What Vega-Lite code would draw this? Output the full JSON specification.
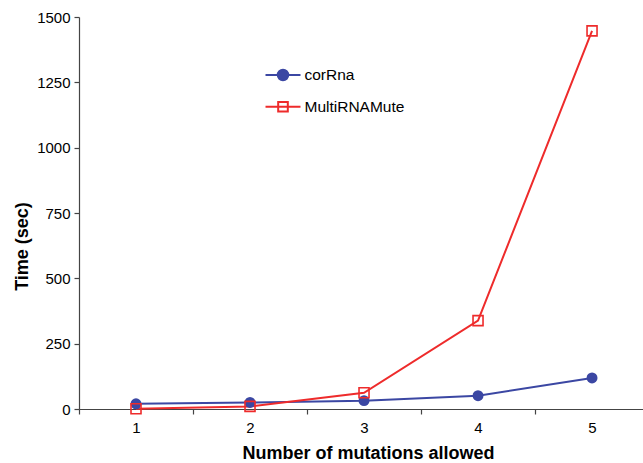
{
  "$schema": "https://vega.github.io/schema/vega-lite/v6.json",
  "width": 564,
  "height": 392,
  "autosize": {"type": "none"},
  "padding": {"left": 79, "top": 17, "right": 0, "bottom": 54},
  "background": "white",
  "config": {
    "view": {"stroke": null},
    "font": "Liberation Sans",
    "axis": {"labelFont": "Liberation Sans", "titleFont": "Liberation Sans", "labelColor": "#000", "titleColor": "#000", "domainColor": "#444", "tickColor": "#444", "domainWidth": 1.2, "tickWidth": 1.2, "grid": false}
  },
  "data": {
    "values": [
      {"n": 1, "series": "corRna", "time": 20},
      {"n": 2, "series": "corRna", "time": 25},
      {"n": 3, "series": "corRna", "time": 32},
      {"n": 4, "series": "corRna", "time": 51},
      {"n": 5, "series": "corRna", "time": 119},
      {"n": 1, "series": "MultiRNAMute", "time": 1},
      {"n": 2, "series": "MultiRNAMute", "time": 10},
      {"n": 3, "series": "MultiRNAMute", "time": 62},
      {"n": 4, "series": "MultiRNAMute", "time": 338},
      {"n": 5, "series": "MultiRNAMute", "time": 1447}
    ]
  },
  "encoding": {
    "x": {
      "field": "n", "type": "quantitative",
      "scale": {"domain": [0.5, 5.447], "nice": false, "zero": false},
      "axis": {
        "title": "Number of mutations allowed",
        "titleFontSize": 18, "titleFontWeight": "bold",
        "titleX": 289, "titleY": 49, "titleBaseline": "alphabetic", "titleAlign": "center", "titleAnchor": null,
        "values": [0.5, 1, 1.5, 2, 2.5, 3, 3.5, 4, 4.5, 5],
        "labelExpr": "datum.value % 1 === 0 ? '' + datum.value : ''",
        "tickSize": {"condition": {"test": "datum.value % 1 === 0", "value": 0}, "value": 5},
        "labelFontSize": 15, "labelPadding": 11, "labelFlush": false, "labelOverlap": false
      }
    },
    "y": {
      "field": "time", "type": "quantitative",
      "scale": {"domain": [0, 1500], "nice": false},
      "axis": {
        "title": "Time (sec)",
        "titleFontSize": 18, "titleFontWeight": "bold",
        "titleAngle": -90, "titleX": -57, "titleY": 229, "titleAlign": "center", "titleBaseline": "middle",
        "values": [0, 250, 500, 750, 1000, 1250, 1500],
        "labelExpr": "'' + datum.value",
        "tickSize": 5, "labelFontSize": 15, "labelPadding": 4
      }
    }
  },
  "layer": [
    {
      "mark": {"type": "line", "strokeWidth": 2},
      "encoding": {
        "color": {
          "field": "series", "type": "nominal",
          "scale": {"domain": ["corRna", "MultiRNAMute"], "range": ["#3b47a3", "#ee2b2b"]},
          "legend": {
            "orient": "none", "legendX": 194, "legendY": 48, "title": null, "padding": 0,
            "symbolSize": 306, "symbolStrokeWidth": 2,
            "labelFontSize": 15.5, "labelFont": "Liberation Sans", "labelColor": "#000",
            "labelOffset": 11.5, "rowPadding": 11.75,
            "encode": {
              "symbols": {
                "update": {
                  "shape": {"signal": "datum.value === 'corRna' ? 'M-2,0H2M-0.6,0A0.6,0.6 0 1,1 0.6,0A0.6,0.6 0 1,1 -0.6,0Z' : 'M-2,0H2M-0.55,-0.55H0.55V0.55H-0.55Z'"},
                  "fill": {"signal": "datum.value === 'corRna' ? '#3b47a3' : 'white'"},
                  "fillOpacity": {"value": 1},
                  "strokeWidth": {"value": 2}
                }
              }
            }
          }
        }
      }
    },
    {
      "transform": [{"filter": "datum.series === 'corRna'"}],
      "mark": {"type": "point", "shape": "circle", "filled": true, "size": 120, "color": "#3b47a3", "opacity": 1}
    },
    {
      "transform": [{"filter": "datum.series === 'MultiRNAMute'"}],
      "mark": {"type": "point", "shape": "square", "filled": false, "size": 100, "color": "#ee2b2b", "strokeWidth": 1.6, "opacity": 1}
    }
  ]
}
